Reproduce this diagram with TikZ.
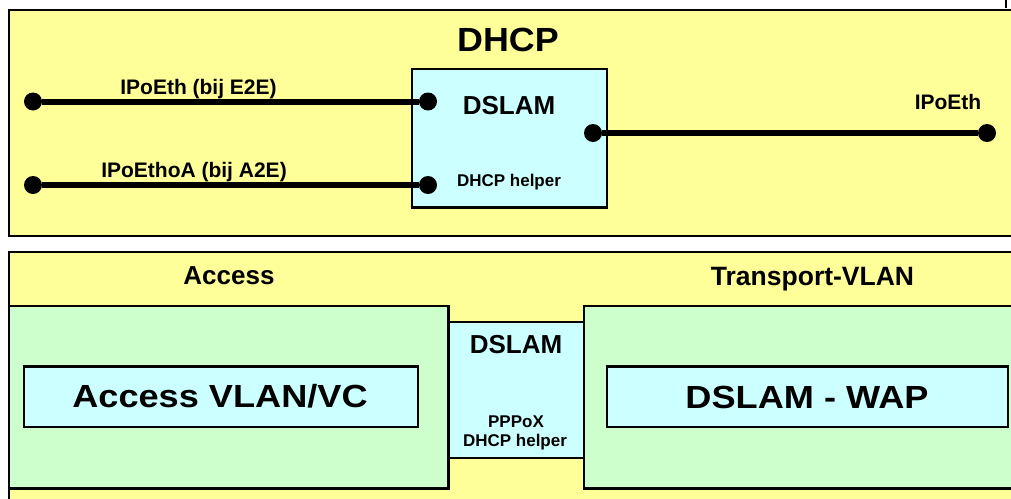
\documentclass[tikz,border=0pt]{standalone}
\usepackage{fontspec}
\setmainfont{Liberation Sans}[BoldFont={Liberation Sans Bold}]
\newfontfamily\widefont{Liberation Sans Bold}[FakeStretch=1.13]
\newfontfamily\titlefont{Liberation Sans Bold}[FakeStretch=1.07]
\definecolor{pyellow}{HTML}{FFFF99}
\definecolor{pcyan}{HTML}{CCFFFF}
\definecolor{pgreen}{HTML}{CCFFCC}
\tikzset{
  panel/.style={draw=black, line width=2.4pt, fill=pyellow},
  cbox/.style={draw=black, line width=2.4pt, fill=pcyan},
  gbox/.style={draw=black, line width=2.4pt, fill=pgreen},
  lbl/.style={anchor=base, inner sep=0pt, font=\bfseries\fontsize{#1}{#1}\selectfont},
  dot/.style={circle, fill=black, inner sep=0pt, minimum size=18pt},
  link/.style={line width=6pt}
}
\begin{document}
\begin{tikzpicture}[x=1pt,y=-1pt]
\useasboundingbox (0,0) rectangle (1011,498);
\fill[white] (0,0) rectangle (1011,498);
\clip (0,0) rectangle (1011,498);
% top panel
\draw[panel] (9,10) rectangle (1030,236);
\draw[line width=1.2pt] (1006,0) -- (1006,8);
\node[lbl=33.5] (title) at (508,51.5) {\titlefont DHCP};
\draw[cbox] (412,69) rectangle (607,207.5);
\node[lbl=26] (dslam1) at (509,114) {DSLAM};
\node[lbl=17] (helper1) at (509,186.5) {DHCP helper};
% connectors
\node[dot] (a1) at (33,101.5) {};
\node[dot] (b1) at (428,101.5) {};
\node[dot] (a2) at (33,185) {};
\node[dot] (b2) at (428,185) {};
\node[dot] (c1) at (593,133) {};
\node[dot] (c2) at (987,133) {};
\draw[link] (a1) -- (b1);
\draw[link] (a2) -- (b2);
\draw[link] (c1) -- (c2);
\node[lbl=21] (l1) at (198.5,94) {IPoEth (bij E2E)};
\node[lbl=21] (l2) at (194,177.7) {IPoEthoA (bij A2E)};
\node[lbl=21] (l3) at (948,109.3) {IPoEth};
% bottom panel
\draw[panel] (9,252) rectangle (1030,520);
\node[lbl=26] (access) at (229,284.3) {Access};
\node[lbl=26.5] (transport) at (812.5,285.7) {Transport-VLAN};
\draw[gbox] (9,306) rectangle (448.5,488.5);
\draw[gbox] (584,306) rectangle (1030,488.5);
\draw[cbox] (448.5,322) rectangle (584,458);
\node[lbl=26] (dslam2) at (516,353) {DSLAM};
\node[lbl=17] (pppox) at (516,427.3) {PPPoX};
\node[lbl=17] (helper2) at (515,446.5) {DHCP helper};
\draw[cbox] (24,366.5) rectangle (418,427);
\draw[cbox] (607,366.5) rectangle (1008,427);
\node[lbl=32] (avlan) at (220,407.5) {\widefont Access VLAN/VC};
\node[lbl=32] (wap) at (807,408) {\widefont DSLAM - WAP};
\end{tikzpicture}
\end{document}
